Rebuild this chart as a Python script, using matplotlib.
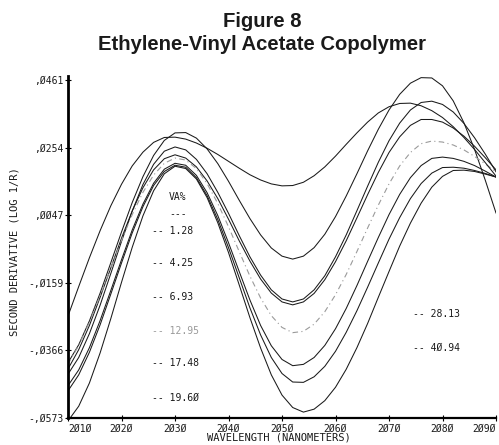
"""
Figure 8 - Ethylene-Vinyl Acetate Copolymer
二阶导数光谱 (NIR), 按 VA% 分组
"""

import numpy as np
import matplotlib.pyplot as plt

# 波长 (nm), 每 2 nm 一个点
wavelength = np.arange(2010, 2091, 2)

# 二阶导数 (LOG 1/R)
va_1_28 = [-0.0404, -0.0349, -0.0276, -0.0191, -0.0098, -0.0004, 0.0086, 0.0165, 0.0230, 0.0276, 0.0299,
           0.0300, 0.0283, 0.0250, 0.0205, 0.0151, 0.0093, 0.0037, -0.0013, -0.0053, -0.0078, -0.0087,
           -0.0078, -0.0052, -0.0011, 0.0043, 0.0106, 0.0174, 0.0244, 0.0310, 0.0369, 0.0417, 0.0451, 0.0468,
           0.0467, 0.0443, 0.0397, 0.0330, 0.0248, 0.0154, 0.0054]
va_4_25 = [-0.0439, -0.0388, -0.0315, -0.0228, -0.0131, -0.0033, 0.0060, 0.0141, 0.0203, 0.0243, 0.0256,
           0.0247, 0.0218, 0.0174, 0.0117, 0.0053, -0.0015, -0.0080, -0.0136, -0.0181, -0.0209, -0.0218,
           -0.0209, -0.0181, -0.0138, -0.0080, -0.0013, 0.0061, 0.0136, 0.0209, 0.0275, 0.0329, 0.0369, 0.0392,
           0.0396, 0.0386, 0.0363, 0.0328, 0.0284, 0.0234, 0.0180]
va_6_93 = [-0.0423, -0.0364, -0.0290, -0.0204, -0.0114, -0.0023, 0.0060, 0.0131, 0.0186, 0.0220, 0.0232,
           0.0222, 0.0195, 0.0152, 0.0098, 0.0035, -0.0031, -0.0093, -0.0148, -0.0191, -0.0218, -0.0227,
           -0.0218, -0.0192, -0.0150, -0.0095, -0.0031, 0.0039, 0.0110, 0.0178, 0.0239, 0.0287, 0.0322, 0.0340,
           0.0340, 0.0332, 0.0314, 0.0289, 0.0258, 0.0223, 0.0186]
va_12_95 = [-0.0408, -0.0351, -0.0280, -0.0199, -0.0114, -0.0030, 0.0049, 0.0117, 0.0170, 0.0206, 0.0222,
            0.0216, 0.0190, 0.0144, 0.0083, 0.0012, -0.0064, -0.0139, -0.0206, -0.0260, -0.0296, -0.0312,
            -0.0308, -0.0286, -0.0248, -0.0196, -0.0134, -0.0064, 0.0008, 0.0078, 0.0143, 0.0198, 0.0239, 0.0266,
            0.0274, 0.0271, 0.0262, 0.0247, 0.0227, 0.0204, 0.0180]
va_17_48 = [-0.0474, -0.0426, -0.0358, -0.0275, -0.0183, -0.0089, 0.0002, 0.0081, 0.0145, 0.0188, 0.0206,
            0.0200, 0.0169, 0.0116, 0.0046, -0.0037, -0.0125, -0.0212, -0.0290, -0.0352, -0.0394, -0.0413,
            -0.0409, -0.0388, -0.0351, -0.0300, -0.0238, -0.0168, -0.0094, -0.0021, 0.0049, 0.0111, 0.0162,
            0.0199, 0.0221, 0.0225, 0.0221, 0.0212, 0.0199, 0.0182, 0.0164]
va_19_60 = [-0.0490, -0.0441, -0.0372, -0.0288, -0.0194, -0.0099, -0.0007, 0.0073, 0.0138, 0.0181, 0.0200,
            0.0194, 0.0162, 0.0107, 0.0034, -0.0052, -0.0144, -0.0236, -0.0319, -0.0388, -0.0437, -0.0463,
            -0.0464, -0.0447, -0.0415, -0.0369, -0.0311, -0.0245, -0.0173, -0.0099, -0.0026, 0.0040, 0.0098,
            0.0144, 0.0176, 0.0193, 0.0194, 0.0191, 0.0184, 0.0175, 0.0164]
va_28_13 = [-0.0582, -0.0537, -0.0466, -0.0374, -0.0269, -0.0158, -0.0051, 0.0045, 0.0122, 0.0174, 0.0197,
            0.0190, 0.0158, 0.0101, 0.0024, -0.0067, -0.0166, -0.0266, -0.0359, -0.0441, -0.0503, -0.0541,
            -0.0555, -0.0546, -0.0520, -0.0479, -0.0424, -0.0358, -0.0284, -0.0204, -0.0125, -0.0047, 0.0023,
            0.0084, 0.0133, 0.0166, 0.0184, 0.0185, 0.0181, 0.0173, 0.0164]
va_40_94 = [-0.0261, -0.0171, -0.0083, 0.0000, 0.0076, 0.0142, 0.0198, 0.0240, 0.0270, 0.0285,
            0.0286, 0.0280, 0.0268, 0.0252, 0.0233, 0.0212, 0.0191, 0.0171, 0.0155, 0.0143, 0.0137,
            0.0138, 0.0148, 0.0168, 0.0195, 0.0228, 0.0264, 0.0299, 0.0332, 0.0360, 0.0379, 0.0389,
            0.0390, 0.0382, 0.0367, 0.0346, 0.0318, 0.0285, 0.0248, 0.0208, 0.0167]

series = [va_1_28, va_4_25, va_6_93, va_12_95, va_17_48, va_19_60, va_28_13, va_40_94]
left_labels = ['1.28', '4.25', '6.93', '12.95', '17.48', '19.6Ø']
right_labels = ['28.13', '4Ø.94']

yticks = [-0.0573, -0.0366, -0.0159, 0.0047, 0.0254, 0.0461]
ytick_labels = ['-,Ø573', '-,Ø366', '-,Ø159', ',ØØ47', ',Ø254', ',Ø461']
xticks = [2010, 2020, 2030, 2040, 2050, 2060, 2070, 2080, 2090]
xtick_labels = ['2Ø1Ø', '2Ø2Ø', '2Ø3Ø', '2Ø4Ø', '2Ø5Ø', '2Ø6Ø', '2Ø7Ø', '2Ø8Ø', '2Ø9Ø']

MONO = 'DejaVu Sans Mono'
INK = '#1a1a1a'

fig = plt.figure(figsize=(4.99, 4.45), dpi=100)
ax = fig.add_axes([0.1363, 0.0607, 0.8577, 0.7685])

# 曲线
for i, vals in enumerate(series):
    if i == 3:
        ax.plot(wavelength, vals, color='#9a9a9a', lw=0.8, ls=(0, (5, 3, 1, 3)))
    else:
        ax.plot(wavelength, vals, color=INK, lw=0.75)

ax.set_xlim(2010, 2090)
ax.set_ylim(-0.0573, 0.0473)

for side in ['top', 'right']:
    ax.spines[side].set_visible(False)
ax.spines['left'].set_linewidth(2.0)
ax.spines['bottom'].set_linewidth(1.6)

ax.set_yticks(yticks)
ax.set_yticklabels(ytick_labels, family=MONO, fontsize=7, color=INK)
ax.set_xticks(xticks)
ax.set_xticklabels(xtick_labels, family=MONO, fontsize=7, color=INK)
ax.tick_params(axis='y', direction='inout', length=4, width=0.8, pad=1)
ax.tick_params(axis='x', direction='inout', length=4, width=0.8, pad=2)
xl = ax.get_xticklabels()
xl[0].set_ha('left')
xl[-1].set_ha('right')

# 图例文字
ax.text(0.236, 0.646, 'VA%', transform=ax.transAxes, family=MONO, fontsize=7,
        color=INK, va='center')
ax.text(0.236, 0.596, '---', transform=ax.transAxes, family=MONO, fontsize=7,
        color=INK, va='center')
left_y = [0.547, 0.453, 0.354, 0.254, 0.161, 0.058]
for lbl, yy in zip(left_labels, left_y):
    c = '#9a9a9a' if lbl == '12.95' else INK
    ax.text(0.196, yy, '-- ' + lbl, transform=ax.transAxes, family=MONO,
            fontsize=7, color=c, va='center')
for lbl, yy in zip(right_labels, [0.304, 0.205]):
    ax.text(0.806, yy, '-- ' + lbl, transform=ax.transAxes, family=MONO,
            fontsize=7, color=INK, va='center')

# 坐标轴标题
fig.text(0.559, 0.016, 'WAVELENGTH (NANOMETERS)', family=MONO, fontsize=7.5,
         color=INK, ha='center', va='center')
fig.text(0.030, 0.434, 'SECOND DERIVATIVE (LOG 1/R)', family=MONO, fontsize=7.5,
         color=INK, ha='center', va='center', rotation=90)

# 标题
fig.text(0.525, 0.951, 'Figure 8', family='Liberation Sans', weight='bold',
         fontsize=14.6, color=INK, ha='center', va='center')
fig.text(0.525, 0.899, 'Ethylene-Vinyl Acetate Copolymer', family='Liberation Sans',
         weight='bold', fontsize=14.6, color=INK, ha='center', va='center')

fig.savefig('out.png', dpi=100)
